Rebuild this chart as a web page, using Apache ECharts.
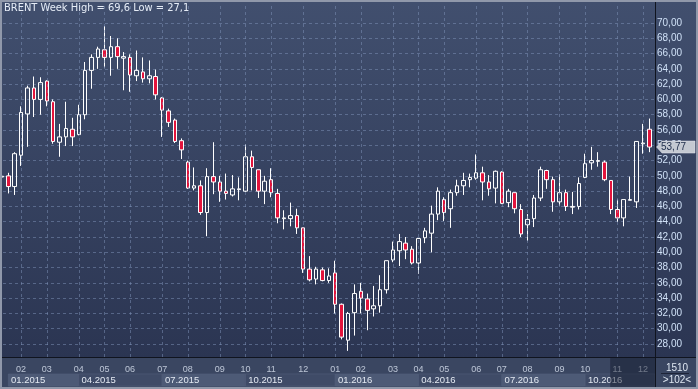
<!DOCTYPE html>
<html><head><meta charset="utf-8">
<script src="https://cdn.jsdelivr.net/npm/echarts@6/dist/echarts.min.js"></script>
<style>html,body{margin:0;padding:0;background:#2f3a55;overflow:hidden}#c{width:698px;height:389px}</style>
</head><body><div id="c"></div>
<script>
// ---- data (weekly BRENT candles) ----
const opens  = [49.85,50.0,48.6,52.7,58.1,61.5,60.0,62.4,59.7,54.4,55.1,56.1,55.4,58.0,63.8,65.5,66.5,65.5,66.9,65.4,
                65.5,63.1,63.6,62.7,63.0,60.2,58.5,57.3,54.6,51.8,48.4,48.7,45.2,49.9,49.2,48.0,47.5,48.2,48.0,52.5,
                50.8,48.0,49.5,47.7,44.4,44.4,44.8,43.2,37.8,36.5,37.7,36.3,37.3,33.2,28.5,32.1,34.9,33.9,32.6,33.0,
                35.1,39.0,40.2,41.2,40.4,38.6,41.9,42.5,45.0,46.9,45.7,47.8,48.7,49.5,49.7,50.4,49.2,48.4,50.5,46.5,
                47.8,45.6,43.6,44.4,47.1,50.7,49.5,46.6,47.8,45.9,46.0,49.8,51.7,51.9,51.8,49.4,45.6,44.5,46.8,46.6,
                54.2,56.1];
const closes = [49.95,48.6,52.9,58.3,61.5,60.0,62.2,59.8,54.5,55.1,56.2,55.1,58.0,63.8,65.5,66.6,65.5,66.9,65.6,65.6,
                63.2,63.8,62.7,63.1,60.6,58.6,57.0,54.5,53.4,48.4,48.7,45.2,49.9,49.2,48.0,47.7,48.3,48.3,52.5,51.1,
                48.0,49.3,47.8,44.5,44.5,44.8,43.2,37.8,36.4,37.8,36.3,36.9,33.2,28.9,32.0,34.6,34.0,32.4,33.0,35.1,
                38.9,40.3,41.4,40.3,38.6,41.8,42.8,45.0,48.0,45.2,47.8,48.7,49.4,49.8,50.4,49.2,48.3,50.6,46.4,48.0,
                45.7,42.4,44.3,47.1,50.8,49.5,46.6,47.8,46.0,46.0,49.0,51.6,52.0,52.0,49.5,45.6,44.5,46.9,46.9,54.5,
                54.3,53.77];
const lows   = [49.8,47.7,47.5,51.3,53.8,57.7,58.0,59.1,54.2,52.5,53.9,53.9,55.3,57.4,61.4,64.0,64.2,63.1,64.0,61.2,
                61.0,62.4,62.2,62.1,60.0,55.1,56.4,54.3,52.2,48.3,48.1,44.9,42.1,47.6,46.6,46.9,47.3,46.8,47.9,48.1,
                47.1,46.3,47.2,43.8,43.0,43.4,42.4,37.3,36.2,35.8,36.2,36.0,32.0,28.6,27.1,29.1,32.0,29.8,31.6,32.1,
                34.6,38.7,38.2,39.1,38.4,37.2,41.2,40.0,44.2,44.1,43.2,47.4,47.5,48.5,49.5,46.8,47.4,46.4,46.3,45.9,
                45.1,42.0,41.5,43.3,46.7,48.3,45.3,46.1,45.4,45.0,45.6,49.7,50.8,51.2,49.3,45.0,44.0,43.4,46.8,45.8,
                52.9,53.1];
const highs  = [50.0,50.4,53.1,59.1,61.8,63.0,62.9,62.5,60.0,56.8,59.7,57.6,59.3,64.9,65.9,66.9,69.6,68.3,68.0,66.2,
                65.9,66.4,65.5,65.1,63.9,60.3,58.8,57.5,54.9,52.0,51.1,49.4,51.0,54.4,50.0,50.3,50.1,49.8,54.1,53.3,
                50.8,50.0,51.0,48.3,45.5,46.5,45.7,43.2,39.5,38.1,38.0,37.9,38.9,33.3,32.2,35.8,36.0,34.6,35.6,37.0,
                38.9,41.4,42.4,42.0,40.8,41.8,43.2,46.1,48.5,47.2,48.2,49.5,50.4,50.3,52.8,51.2,50.1,50.7,50.6,48.3,
                47.8,46.3,45.0,47.5,51.2,50.8,49.9,50.2,48.2,47.9,49.8,52.9,53.8,53.1,52.0,49.4,46.9,46.9,49.9,54.5,
                56.8,57.5];
const monthTickIdx    = [3,7,12,16,20,25,29,34,38,42,47,52,56,61,65,69,74,78,82,87,91,96,100];
const monthTickLabels = ['02','03','04','05','06','07','08','09','10','11','12','01','02','03','04','05','06','07','08','09','10','11','12'];
const quarterStartIdx = [1,12,25,38,52,65,78,91];
const quarterLabels   = ['01.2015','04.2015','07.2015','10.2015','01.2016','04.2016','07.2016','10.2016'];
const yTickMin = 28, yTickMax = 70, yTickStep = 2;
const instrument = 'BRENT', periodName = 'Week';
const footerTop = '1510';
const shadeFromIdx = 94.9;

// ---- layout / style ----
const X0 = 1.89, DX = 6.41, PL = 3, PR = 655;
const xMin = (PL - X0) / DX, xMax = (PR - X0) / DX;
const FONT = 'Liberation Sans, Arial, sans-serif';
const gridCol = 'rgba(128,148,185,0.5)';
const fmt1 = v => v.toFixed(1).replace('.', ',');
const fmt2 = v => v.toFixed(2).replace('.', ',');
const hi = Math.max(...highs), lo = Math.min(...lows);
const candles = opens.map((o, i) => [i, o, closes[i], lows[i], highs[i]]);

const chart = echarts.init(document.getElementById('c'));
const bgGrad = new echarts.graphic.LinearGradient(0, 0, 0, 1, [
  {offset: 0, color: '#414f6e'}, {offset: 1, color: '#2b3552'}]);

const option = {
  animation: false,
  backgroundColor: '#2f3a55',
  grid: [
    {left: 3, width: 652, top: 23, height: 321},
    {left: 3, width: 652, top: 3, height: 354},
    {left: 3, width: 652, top: 358, height: 29}
  ],
  xAxis: [0, 1, 2].map(g => ({type: 'value', gridIndex: g, min: xMin, max: xMax, show: false})),
  yAxis: [
    {type: 'value', gridIndex: 0, min: yTickMin, max: yTickMax, interval: yTickStep, position: 'right',
     axisLine: {show: false}, axisTick: {show: false},
     axisLabel: {margin: 2, color: '#cfe0f6', fontSize: 10, fontFamily: FONT, formatter: v => fmt2(v)},
     splitLine: {show: true, lineStyle: {color: gridCol, type: [3, 3], width: 1}}},
    {type: 'value', gridIndex: 1, min: 0, max: 1, show: false},
    {type: 'value', gridIndex: 2, min: 0, max: 1, show: false}
  ],
  graphic: {elements: [
    {id: 'bg', type: 'rect', z: -10, shape: {x: 2, y: 2, width: 694, height: 356}, style: {fill: bgGrad}, silent: true},
    {id: 'axbg', type: 'rect', z: -10, shape: {x: 2, y: 358, width: 694, height: 29}, style: {fill: '#3a4661'}, silent: true},
    {id: 'title', type: 'text', z: 100, x: 4, y: 8, silent: true,
     style: {text: instrument + ' ' + periodName + ' High = ' + fmt1(hi) + ' Low = ' + fmt1(lo),
             fill: '#e6edf7', font: '11px "Liberation Sans Narrow", "DejaVu Sans Condensed", "Liberation Sans", sans-serif', verticalAlign: 'middle'}},
    {id: 'ft1', type: 'text', z: 100, x: 677, y: 368, silent: true,
     style: {text: footerTop, fill: '#dfe7f2', font: '10px ' + FONT, align: 'center', verticalAlign: 'middle'}},
    {id: 'ftl', type: 'line', z: 100, shape: {x1: 661, y1: 373.5, x2: 689, y2: 373.5}, style: {stroke: '#1d2438', lineWidth: 1}, silent: true},
    {id: 'ft2', type: 'text', z: 100, x: 677, y: 380, silent: true,
     style: {text: '>' + opens.length + '<', fill: '#dfe7f2', font: '10px ' + FONT, align: 'center', verticalAlign: 'middle'}},
    {id: 'sepv', type: 'line', z: 100, shape: {x1: 655.5, y1: 2, x2: 655.5, y2: 387}, style: {stroke: '#10141f', lineWidth: 1}, silent: true},
    {id: 'seph', type: 'line', z: 100, shape: {x1: 2, y1: 357.5, x2: 696, y2: 357.5}, style: {stroke: '#10141f', lineWidth: 1}, silent: true},
    {id: 'frame', type: 'rect', z: 100, shape: {x: 1, y: 1, width: 696, height: 387}, style: {fill: null, stroke: '#9098aa', lineWidth: 2}, silent: true}
  ]},
  series: [
    {type: 'candlestick', xAxisIndex: 0, yAxisIndex: 0, data: candles, encode: {x: 0, y: [1, 2, 3, 4]},
     barWidth: 4, clip: false, silent: true,
     itemStyle: {color: 'rgba(0,0,0,0)', color0: '#e3143c', borderColor: '#ffffff', borderColor0: '#ffffff', borderWidth: 1}},
    {type: 'scatter', xAxisIndex: 1, yAxisIndex: 1, data: [[50, 0.5]], symbolSize: 0, silent: true,
     markLine: {silent: true, symbol: ['none', 'none'], label: {show: false},
       lineStyle: {color: gridCol, type: [3, 3], width: 1},
       data: monthTickIdx.map(v => ({xAxis: v}))}},
    {type: 'scatter', xAxisIndex: 2, yAxisIndex: 2, symbolSize: 1, clip: false, silent: true,
     itemStyle: {color: 'rgba(0,0,0,0)'},
     data: monthTickIdx.map((v, i) => ({value: [v, 0.62], name: monthTickLabels[i]})),
     label: {show: true, position: 'inside', formatter: '{b}', color: '#dbe4f1', fontSize: 9, fontFamily: FONT},
     markArea: {silent: true,
       label: {show: true, position: 'insideLeft', distance: 3, color: '#e3e9f2', fontSize: 9.5, fontFamily: FONT},
       data: quarterStartIdx.map((s, i) => [
         {name: quarterLabels[i], xAxis: s, yAxis: 0.03,
          itemStyle: {color: i % 2 === 0 ? '#4d5a76' : '#3f4b67', borderColor: '#56637f', borderWidth: 0.5}},
         {xAxis: i + 1 < quarterStartIdx.length ? quarterStartIdx[i + 1] : xMax, yAxis: 0.45}])}}
  ]
};
chart.setOption(option);

// price tag + shaded range, positioned through the chart's own scales
const lastClose = closes[closes.length - 1];
const py = chart.convertToPixel({yAxisIndex: 0}, lastClose);
const sx = chart.convertToPixel({xAxisIndex: 2}, shadeFromIdx);
const ex = chart.convertToPixel({xAxisIndex: 2}, xMax);
chart.setOption({graphic: {elements: [
  {id: 'tag', type: 'polygon', z: 101, silent: true,
   shape: {points: [[656.5, py], [662, py - 6], [695, py - 6], [695, py + 6], [662, py + 6]]},
   style: {fill: '#c4c9d2', stroke: '#e4e7ec', lineWidth: 0.5}},
  {id: 'tagt', type: 'text', z: 102, x: 661, y: py, silent: true,
   style: {text: fmt2(lastClose), fill: '#22304e', font: '10px ' + FONT, verticalAlign: 'middle'}},
  {id: 'shade', type: 'rect', z: 99, silent: true,
   shape: {x: sx, y: 358, width: ex - sx, height: 29}, style: {fill: 'rgba(18,24,42,0.45)'}}
]}});
</script>
</body></html>
